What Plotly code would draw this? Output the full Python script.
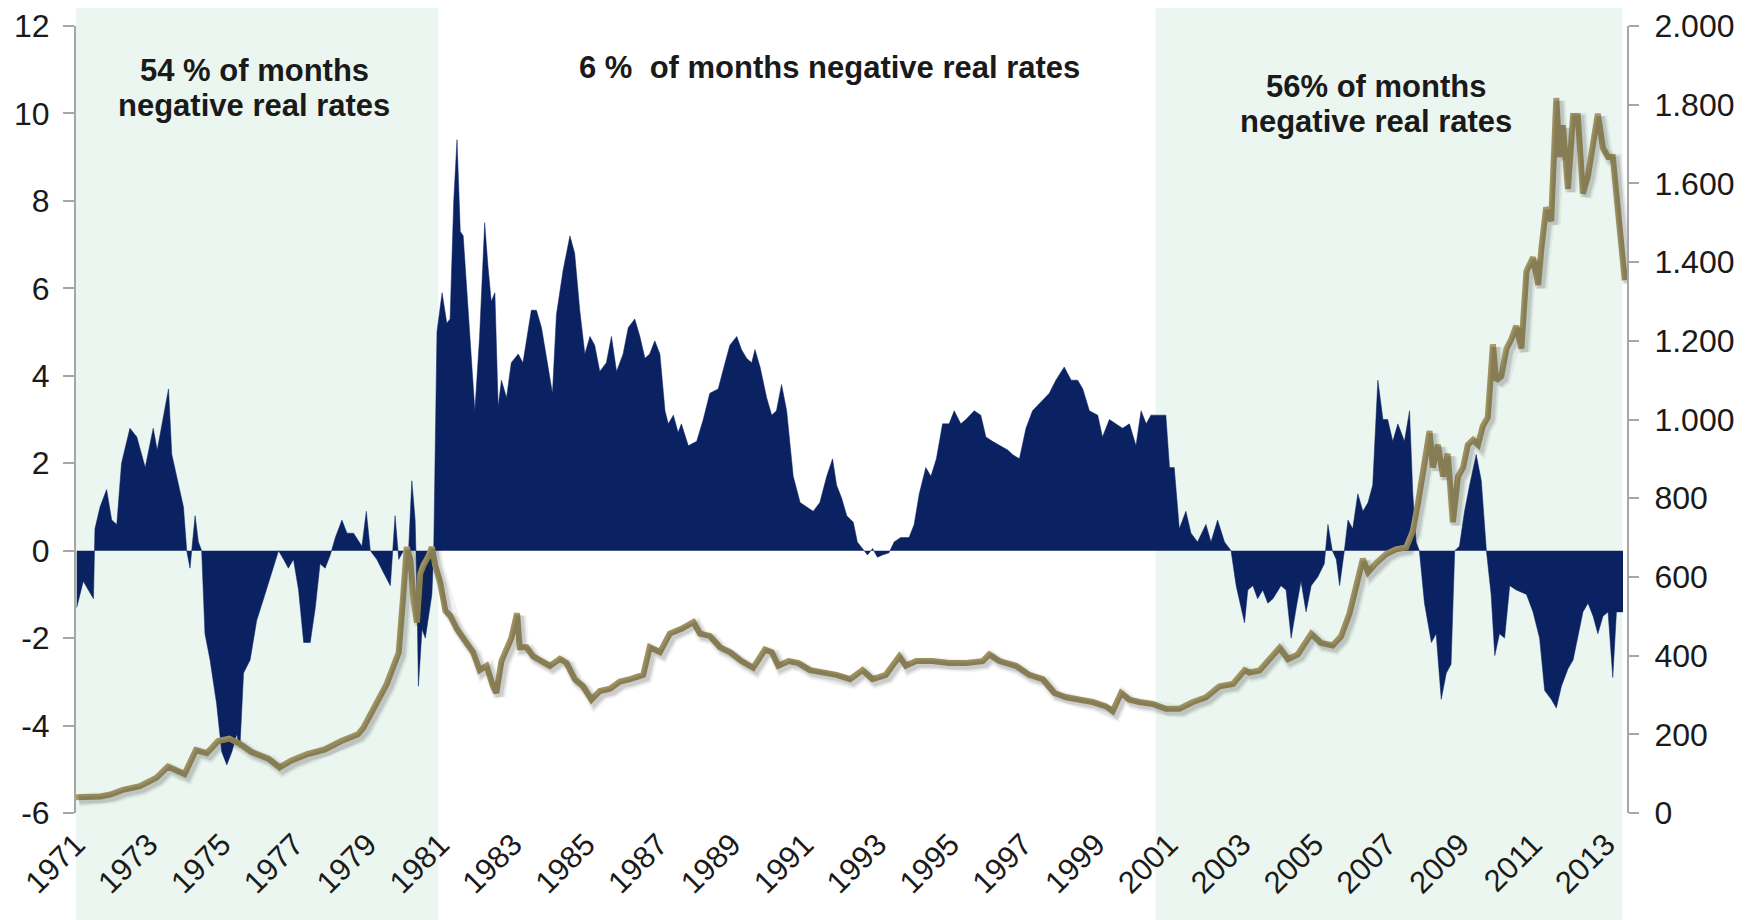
import plotly.graph_objects as go

# ---------------- data ----------------
# Real interest rate, % (left axis) — decimal years
rr_year = [1971.02, 1971.20, 1971.34, 1971.48, 1971.52, 1971.66, 1971.84, 1971.98, 1972.12, 1972.25,
           1972.48, 1972.67, 1972.90, 1973.12, 1973.23, 1973.40, 1973.54, 1973.63, 1973.77, 1973.95,
           1974.04, 1974.13, 1974.27, 1974.36, 1974.45, 1974.54, 1974.68, 1974.86, 1975.00, 1975.14,
           1975.28, 1975.41, 1975.50, 1975.60, 1975.78, 1975.96, 1976.15, 1976.33, 1976.47, 1976.56,
           1976.70, 1976.83, 1976.97, 1977.11, 1977.25, 1977.43, 1977.57, 1977.70, 1977.84, 1977.98,
           1978.12, 1978.30, 1978.44, 1978.62, 1978.85, 1978.97, 1979.08, 1979.26, 1979.44, 1979.63,
           1979.76, 1979.86, 1979.99, 1980.13, 1980.22, 1980.31, 1980.36, 1980.40, 1980.50, 1980.59,
           1980.68, 1980.77, 1980.82, 1980.91, 1981.05, 1981.18, 1981.27, 1981.37, 1981.46, 1981.55,
           1981.63, 1981.72, 1981.95, 1982.08, 1982.22, 1982.31, 1982.40, 1982.50, 1982.59, 1982.68,
           1982.82, 1982.95, 1983.14, 1983.27, 1983.37, 1983.50, 1983.64, 1983.78, 1983.92, 1984.08,
           1984.19, 1984.37, 1984.56, 1984.69, 1984.83, 1984.97, 1985.11, 1985.24, 1985.38, 1985.56,
           1985.70, 1985.84, 1986.02, 1986.16, 1986.34, 1986.48, 1986.62, 1986.75, 1986.89, 1987.03,
           1987.17, 1987.26, 1987.40, 1987.53, 1987.62, 1987.81, 1988.04, 1988.22, 1988.40, 1988.63,
           1988.82, 1988.95, 1989.14, 1989.27, 1989.41, 1989.55, 1989.64, 1989.78, 1989.96, 1990.10,
           1990.23, 1990.37, 1990.51, 1990.69, 1990.88, 1991.06, 1991.24, 1991.42, 1991.61, 1991.77,
           1991.88, 1992.02, 1992.16, 1992.34, 1992.45, 1992.59, 1992.73, 1992.87, 1993.00, 1993.14,
           1993.32, 1993.46, 1993.64, 1993.87, 1994.01, 1994.15, 1994.33, 1994.47, 1994.62, 1994.79,
           1994.97, 1995.11, 1995.29, 1995.43, 1995.66, 1995.84, 1995.98, 1996.16, 1996.39, 1996.58,
           1996.71, 1996.90, 1997.08, 1997.26, 1997.49, 1997.72, 1997.90, 1998.13, 1998.32, 1998.50,
           1998.64, 1998.82, 1999.05, 1999.18, 1999.37, 1999.55, 1999.73, 1999.92, 2000.10, 2000.24,
           2000.38, 2000.51, 2000.74, 2000.92, 2001.02, 2001.15, 2001.29, 2001.47, 2001.61, 2001.79,
           2002.02, 2002.16, 2002.34, 2002.53, 2002.71, 2002.85, 2003.08, 2003.17, 2003.31, 2003.44,
           2003.58, 2003.72, 2003.86, 2004.08, 2004.22, 2004.36, 2004.50, 2004.63, 2004.77, 2004.91,
           2005.09, 2005.27, 2005.37, 2005.49, 2005.60, 2005.69, 2005.82, 2005.92, 2006.05, 2006.19,
           2006.33, 2006.47, 2006.60, 2006.74, 2006.88, 2007.01, 2007.15, 2007.29, 2007.47, 2007.61,
           2007.70, 2007.79, 2007.88, 2008.02, 2008.21, 2008.34, 2008.48, 2008.62, 2008.75, 2008.85,
           2008.98, 2009.12, 2009.26, 2009.44, 2009.58, 2009.72, 2009.85, 2009.95, 2010.08, 2010.22,
           2010.36, 2010.54, 2010.82, 2011.00, 2011.18, 2011.32, 2011.50, 2011.64, 2011.78, 2011.96,
           2012.10, 2012.23, 2012.37, 2012.51, 2012.65, 2012.78, 2012.92, 2013.06, 2013.19, 2013.29,
           2013.47]
rr_val = [-1.3, -0.7, -0.9, -1.1, 0.5, 1.0, 1.4, 0.7, 0.6, 2.0,
          2.8, 2.6, 1.9, 2.8, 2.3, 3.1, 3.7, 2.2, 1.7, 1.0,
          0.0, -0.4, 0.8, 0.2, 0.0, -1.9, -2.5, -3.5, -4.6, -4.9,
          -4.6, -4.2, -4.5, -2.8, -2.5, -1.6, -1.1, -0.6, -0.2, 0.0,
          -0.2, -0.4, -0.2, -0.9, -2.1, -2.1, -1.3, -0.3, -0.4, -0.1,
          0.3, 0.7, 0.4, 0.4, 0.1, 0.9, 0.0, -0.2, -0.5, -0.8,
          0.8, -0.2, 0.0, 0.0, 1.6, 0.7, -0.9, -3.1, -1.8, -2.0,
          -1.5, -1.0, 0.0, 5.0, 5.9, 5.2, 5.3, 8.0, 9.4, 7.3,
          7.2, 6.0, 3.2, 4.9, 7.5, 6.5, 5.7, 5.9, 3.3, 3.9,
          3.5, 4.3, 4.5, 4.3, 4.8, 5.5, 5.5, 5.1, 4.4, 3.6,
          5.4, 6.4, 7.2, 6.8, 5.5, 4.5, 4.9, 4.7, 4.1, 4.3,
          4.9, 4.1, 4.5, 5.1, 5.3, 4.9, 4.4, 4.5, 4.8, 4.5,
          3.2, 2.9, 3.1, 2.7, 2.9, 2.4, 2.5, 3.0, 3.6, 3.7,
          4.3, 4.7, 4.9, 4.6, 4.4, 4.3, 4.6, 4.2, 3.5, 3.1,
          3.2, 3.8, 3.2, 1.7, 1.1, 1.0, 0.9, 1.1, 1.7, 2.1,
          1.5, 1.2, 0.8, 0.65, 0.2, 0.05, -0.1, 0.05, -0.15, -0.1,
          -0.05, 0.2, 0.3, 0.3, 0.6, 1.3, 1.9, 1.7, 2.1, 2.9,
          2.9, 3.2, 2.9, 3.0, 3.2, 3.1, 2.6, 2.5, 2.4, 2.3,
          2.2, 2.1, 2.8, 3.2, 3.4, 3.6, 3.9, 4.2, 3.9, 3.9,
          3.7, 3.2, 3.1, 2.6, 3.0, 2.9, 2.8, 2.9, 2.4, 3.2,
          2.9, 3.1, 3.1, 3.1, 1.9, 1.9, 0.5, 0.9, 0.4, 0.2,
          0.6, 0.2, 0.7, 0.2, 0.0, -0.8, -1.65, -0.9, -0.8, -1.1,
          -0.9, -1.2, -1.1, -0.8, -0.9, -2.0, -1.3, -0.7, -1.4, -0.8,
          -0.6, -0.3, 0.6, 0.0, -0.2, -0.8, 0.0, 0.7, 0.5, 1.3,
          0.9, 1.1, 1.5, 3.9, 3.0, 3.0, 2.5, 2.9, 2.5, 3.2,
          1.3, 0.2, 0.0, -1.2, -2.1, -1.9, -3.4, -2.8, -2.6, 0.0,
          0.1, 0.9, 1.5, 2.2, 1.6, 0.0, -1.0, -2.4, -1.9, -2.0,
          -0.8, -0.9, -1.0, -1.4, -2.0, -3.2, -3.4, -3.6, -3.1, -2.7,
          -2.5, -2.0, -1.4, -1.2, -1.5, -1.9, -1.5, -1.4, -2.9, -1.4,
          -1.4]

# Gold price, USD/oz (right axis)
gold_year = [1971.00, 1971.68, 1971.98, 1972.29, 1972.75, 1973.21, 1973.52, 1973.83, 1973.98, 1974.29,
             1974.59, 1974.90, 1975.21, 1975.51, 1975.82, 1976.28, 1976.59, 1976.90, 1977.36, 1977.82,
             1978.28, 1978.74, 1978.89, 1979.53, 1979.86, 1979.99, 1980.08, 1980.18, 1980.27, 1980.36,
             1980.45, 1980.54, 1980.68, 1980.77, 1980.86, 1981.00, 1981.14, 1981.27, 1981.46, 1981.72,
             1981.90, 1982.08, 1982.27, 1982.45, 1982.54, 1982.68, 1982.82, 1982.95, 1983.11, 1983.18,
             1983.37, 1983.55, 1983.78, 1984.01, 1984.28, 1984.47, 1984.69, 1984.92, 1985.15, 1985.38,
             1985.66, 1985.93, 1986.21, 1986.57, 1986.75, 1987.03, 1987.30, 1987.62, 1987.95, 1988.13,
             1988.40, 1988.68, 1988.95, 1989.27, 1989.59, 1989.91, 1990.10, 1990.28, 1990.56, 1990.83,
             1991.15, 1991.52, 1991.88, 1992.25, 1992.59, 1992.87, 1993.23, 1993.41, 1993.60, 1993.78,
             1994.06, 1994.51, 1994.97, 1995.43, 1995.89, 1996.07, 1996.35, 1996.80, 1997.17, 1997.54,
             1997.86, 1998.18, 1998.54, 1998.91, 1999.28, 1999.46, 1999.69, 1999.92, 2000.19, 2000.56,
             2000.92, 2001.29, 2001.66, 2002.02, 2002.39, 2002.76, 2003.08, 2003.21, 2003.49, 2003.76,
             2004.04, 2004.27, 2004.54, 2004.91, 2005.18, 2005.50, 2005.73, 2005.96, 2006.14, 2006.33,
             2006.47, 2006.69, 2006.97, 2007.24, 2007.52, 2007.70, 2007.84, 2008.02, 2008.16, 2008.25,
             2008.39, 2008.53, 2008.66, 2008.80, 2008.94, 2009.08, 2009.21, 2009.35, 2009.49, 2009.62,
             2009.76, 2009.90, 2009.99, 2010.13, 2010.27, 2010.40, 2010.54, 2010.68, 2010.82, 2011.00,
             2011.14, 2011.23, 2011.36, 2011.50, 2011.64, 2011.73, 2011.82, 2011.96, 2012.10, 2012.23,
             2012.37, 2012.51, 2012.65, 2012.78, 2012.92, 2013.06, 2013.19, 2013.38, 2013.52]
gold_val = [40, 42, 48, 59, 68, 90, 118, 104, 99, 160,
            152, 183, 189, 175, 155, 138, 116, 133, 150, 161,
            183, 200, 217, 328, 408, 560, 676, 643, 537, 484,
            608, 630, 653, 676, 630, 585, 514, 502, 467, 432,
            409, 363, 374, 322, 305, 386, 421, 444, 508, 421,
            421, 398, 386, 374, 392, 381, 340, 322, 288, 310,
            316, 334, 340, 351, 421, 409, 456, 468, 485, 456,
            450, 421, 409, 386, 369, 415, 409, 374, 386, 381,
            363, 357, 351, 340, 363, 340, 351, 374, 398, 374,
            386, 386, 381, 381, 386, 403, 386, 374, 351, 340,
            305, 294, 288, 282, 271, 259, 305, 288, 282, 277,
            265, 265, 282, 294, 322, 328, 363, 357, 362, 391,
            420, 391, 403, 455, 432, 426, 449, 507, 577, 646,
            612, 635, 658, 670, 675, 716, 786, 878, 971, 878,
            936, 855, 913, 739, 855, 878, 936, 948, 936, 983,
            1006, 1191, 1099, 1110, 1180, 1203, 1238, 1180, 1377, 1412,
            1342, 1435, 1539, 1504, 1817, 1667, 1748, 1586, 1771, 1771,
            1574, 1620, 1713, 1777, 1690, 1667, 1667, 1493, 1354]

year_ticks = list(range(1971, 2014, 2))
year_labels = [str(y) for y in year_ticks]
left_ticks = list(range(-6, 13, 2))
left_labels = [str(v) for v in left_ticks]
right_ticks = list(range(0, 2001, 200))
right_labels = [f"{v:,}".replace(",", ".") for v in right_ticks]

shade_periods = [(1971.0, 1980.95), (2000.64, 2013.45)]
annotations_text = [
    ("54 % of months", 1975.9, 10.98),
    ("negative real rates", 1975.9, 10.18),
    ("6 %  of months negative real rates", 1991.69, 11.05),
    ("56% of months", 2006.69, 10.62),
    ("negative real rates", 2006.69, 9.82),
]

# ---------------- styling ----------------
NAVY = "#0a2262"
GOLD = "#a69865"
SHADE = "#eaf6ef"
AXIS = "#a6a6a6"
TXT = "#1a1a1a"
FONT = "Liberation Sans, Arial, sans-serif"

X_RANGE = [1971.0, 2013.58]
Y_RANGE = [-6, 12]
Y2_RANGE = [0, 2000]
# page body has an 8px default margin: figure is sized/offset to compensate
FIG_W, FIG_H = 1745, 912
ML, MR, MT, MB = 68, 126, 18, 107
PLOT_W = FIG_W - ML - MR
PLOT_H = FIG_H - MT - MB

fig = go.Figure()

# navy real-rate area
fig.add_trace(go.Scatter(
    x=rr_year, y=rr_val, mode="lines", fill="tozeroy",
    fillcolor=NAVY, line=dict(color=NAVY, width=0.5),
    xaxis="x", yaxis="y", hoverinfo="skip", showlegend=False))

# soft shadow for the gold line (same data, drawn on slightly shifted hidden axes)
for w, a in [(13, 0.05), (10, 0.08), (7, 0.12)]:
    fig.add_trace(go.Scatter(
        x=gold_year, y=gold_val, mode="lines",
        line=dict(color=f"rgba(40,40,40,{a})", width=w),
        xaxis="x3", yaxis="y3", hoverinfo="skip", showlegend=False))

# gold price line
fig.add_trace(go.Scatter(
    x=gold_year, y=gold_val, mode="lines",
    line=dict(color=GOLD, width=6),
    xaxis="x", yaxis="y2", hoverinfo="skip", showlegend=False))

shapes = []
for x0, x1 in shade_periods:
    shapes.append(dict(type="rect", xref="x", yref="paper", x0=x0, x1=x1,
                       y0=-(MB / PLOT_H), y1=1 + MT / PLOT_H, fillcolor=SHADE,
                       line=dict(width=0), layer="below"))

annos = []
for txt, xx, yy in annotations_text:
    annos.append(dict(text=f"<b>{txt}</b>", x=xx, y=yy, xref="x", yref="y",
                      showarrow=False, font=dict(family=FONT, size=31, color=TXT),
                      xanchor="center", yanchor="middle"))

dx = 3 / PLOT_W * (X_RANGE[1] - X_RANGE[0])
dy = 3 / PLOT_H * (Y2_RANGE[1] - Y2_RANGE[0])

fig.update_layout(
    width=FIG_W, height=FIG_H,
    margin=dict(l=ML, r=MR, t=MT, b=MB, autoexpand=False),
    paper_bgcolor="white", plot_bgcolor="rgba(0,0,0,0)",
    font=dict(family=FONT, color=TXT),
    shapes=shapes, annotations=annos,
    showlegend=False,
    xaxis=dict(range=X_RANGE, tickmode="array", tickvals=year_ticks, ticktext=year_labels,
               tickangle=-45, tickfont=dict(size=31, color=TXT), showline=False,
               showgrid=False, zeroline=False, ticks="", ticklabelstandoff=6,
               automargin=False, ticklabeloverflow="allow"),
    xaxis2=dict(range=X_RANGE, overlaying="x", anchor="free", position=6 / 18,
                tickmode="array", tickvals=year_ticks, showticklabels=False,
                showline=True, linecolor=AXIS, linewidth=1.5, ticks="outside",
                ticklen=6, tickcolor=AXIS, showgrid=False, zeroline=False,
                automargin=False),
    xaxis3=dict(range=[X_RANGE[0] - dx, X_RANGE[1] - dx], overlaying="x",
                visible=False, showgrid=False, zeroline=False, automargin=False),
    yaxis=dict(range=Y_RANGE, tickmode="array", tickvals=left_ticks, ticktext=left_labels,
               tickfont=dict(size=32, color=TXT), showline=True, linecolor=AXIS,
               linewidth=2, ticks="outside", ticklen=11, tickcolor=AXIS, tickwidth=1.5,
               showgrid=False, zeroline=False, ticklabelstandoff=7, automargin=False,
               ticklabeloverflow="allow"),
    yaxis2=dict(range=Y2_RANGE, overlaying="y", side="right", tickmode="array",
                tickvals=right_ticks, ticktext=right_labels,
                tickfont=dict(size=32, color=TXT), showline=True, linecolor=AXIS,
                linewidth=2, ticks="outside", ticklen=10, tickcolor=AXIS, tickwidth=1.5,
                showgrid=False, zeroline=False, ticklabelstandoff=9, automargin=False,
                ticklabeloverflow="allow"),
    yaxis3=dict(range=[Y2_RANGE[0] + dy, Y2_RANGE[1] + dy], overlaying="y",
                visible=False, showgrid=False, zeroline=False, automargin=False),
)

fig.write_html("out.html")
